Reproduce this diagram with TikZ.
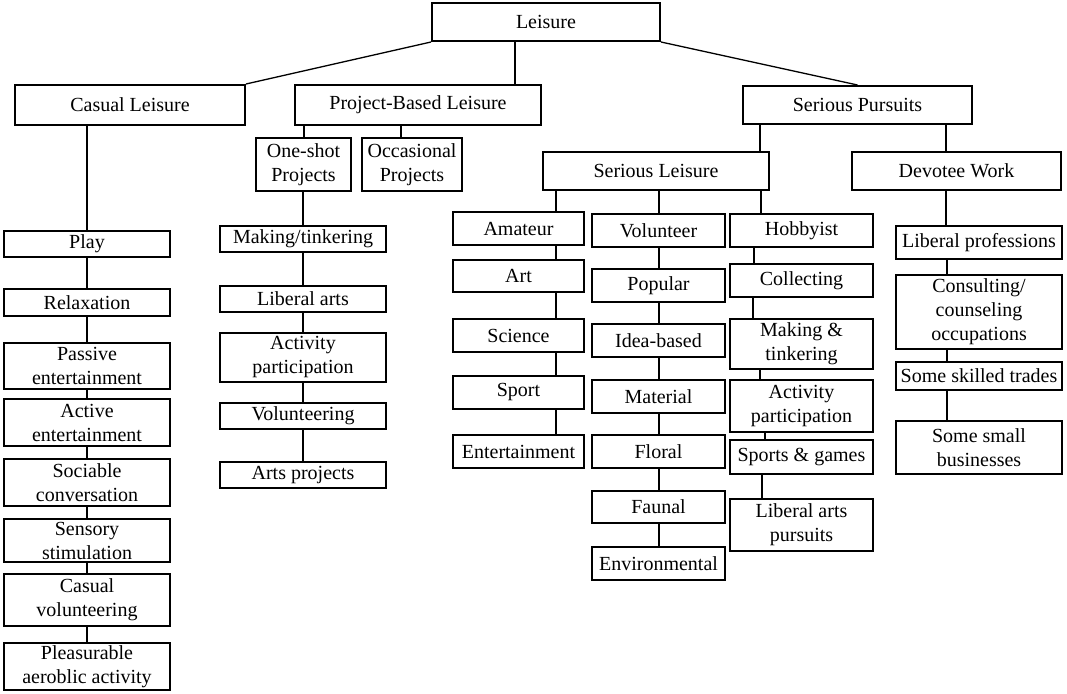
\documentclass[tikz,border=0pt]{standalone}
\usepackage{fontspec}
\setmainfont{Liberation Serif}
\usetikzlibrary{positioning}
\tikzset{
  item/.style={
    draw,
    line width=2pt,
    align=center,
    inner xsep=1pt,
    inner ysep=1pt,
    minimum height=33pt,
    font=\fontsize{20}{24}\selectfont
  },
  casualcol/.style={
    item,
    minimum width=166pt
  },
  projcol/.style={
    item,
    minimum width=166pt
  },
  amateurcol/.style={
    item,
    minimum width=131pt
  },
  volcol/.style={
    item,
    minimum width=133pt
  },
  hobbycol/.style={
    item,
    minimum width=143pt
  },
  devcol/.style={
    item,
    minimum width=166pt
  },
  link/.style={
    line width=2pt
  },
  slant/.style={
    line width=1.3pt
  }
}
\begin{document}
\begin{tikzpicture}[x=1pt,y=1pt]
  \useasboundingbox (0,0) rectangle (1067,-693);

  \node[item, minimum width=228pt, minimum height=38pt] (leisure) at (546,-22) {Leisure};
  \node[item, minimum width=230pt, minimum height=40pt] (casual) at (130,-105) {Casual Leisure};
  \node[item, minimum width=246pt, minimum height=40pt] (project) at (418,-105) {Project-Based Leisure};
  \node[item, minimum width=229pt, minimum height=38pt] (serious) at (857.5,-105) {Serious Pursuits};

  \node[item, minimum width=95pt, minimum height=53pt] (oneshot) at (303.5,-164.5) {One-shot\\Projects};
  \node[item, minimum width=100pt, minimum height=53pt] (occasional) at (412,-164.5) {Occasional\\Projects};
  \node[item, minimum width=226pt, minimum height=38pt] (seriousleis) at (656,-171) {Serious Leisure};
  \node[item, minimum width=209pt, minimum height=38pt] (devotee) at (956.5,-171) {Devotee Work};

  \node[casualcol, minimum height=26pt] (play) at (87,-244) {Play};
  \node[casualcol, minimum height=27pt, below=30pt of play] (relax) {Relaxation};
  \node[casualcol, minimum height=46pt, below=25pt of relax] (passive) {Passive\\entertainment};
  \node[casualcol, minimum height=47pt, below=8pt of passive] (active) {Active\\entertainment};
  \node[casualcol, minimum height=47pt, below=11pt of active] (sociable) {Sociable\\conversation};
  \node[casualcol, minimum height=43pt, below=11pt of sociable] (sensory) {Sensory\\stimulation};
  \node[casualcol, minimum height=52pt, below=10pt of sensory] (casualvol) {Casual\\volunteering};
  \node[casualcol, minimum height=47pt, below=15pt of casualvol] (aerobic) {Pleasurable\\aeroblic activity};

  \node[projcol, minimum height=26pt] (making) at (303,-239) {Making/tinkering};
  \node[projcol, minimum height=26pt, below=32pt of making] (libarts) {Liberal arts};
  \node[projcol, minimum height=49pt, below=19pt of libarts] (actpart) {Activity\\participation};
  \node[projcol, minimum height=26pt, below=19pt of actpart] (volunteering) {Volunteering};
  \node[projcol, minimum height=26pt, below=31pt of volunteering] (artsproj) {Arts projects};

  \node[amateurcol] (amateur) at (518.5,-228.5) {Amateur};
  \node[amateurcol, minimum height=32pt, below=13pt of amateur] (art) {Art};
  \node[amateurcol, below=25pt of art] (science) {Science};
  \node[amateurcol, below=22pt of science] (sport) {Sport};
  \node[amateurcol, below=24pt of sport] (entertain) {Entertainment};

  \node[volcol] (volunteer) at (658.5,-230.5) {Volunteer};
  \node[volcol, below=20pt of volunteer] (popular) {Popular};
  \node[volcol, below=20pt of popular] (idea) {Idea-based};
  \node[volcol, below=21pt of idea] (material) {Material};
  \node[volcol, below=20pt of material] (floral) {Floral};
  \node[volcol, minimum height=32pt, below=21pt of floral] (faunal) {Faunal};
  \node[volcol, below=22pt of faunal] (environ) {Environmental};

  \node[hobbycol] (hobbyist) at (801.5,-230.5) {Hobbyist};
  \node[hobbycol, below=15pt of hobbyist] (collecting) {Collecting};
  \node[hobbycol, minimum height=50pt, below=20pt of collecting] (makingtink) {Making \&\\tinkering};
  \node[hobbycol, minimum height=52pt, below=9pt of makingtink] (activityp) {Activity\\participation};
  \node[hobbycol, minimum height=34pt, below=6pt of activityp] (sports) {Sports \& games};
  \node[hobbycol, minimum height=52pt, below=23pt of sports] (libpursuits) {Liberal arts\\pursuits};

  \node[devcol] (libprof) at (979,-242.5) {Liberal professions};
  \node[devcol, minimum height=74pt, below=14pt of libprof] (consulting) {Consulting/\\counseling\\occupations};
  \node[devcol, minimum height=28pt, below=11pt of consulting] (skilled) {Some skilled trades};
  \node[devcol, minimum height=53pt, below=29pt of skilled] (smallbiz) {Some small\\businesses};

  \draw[slant] (leisure.south west) -- (casual.north east);
  \draw[slant] (leisure.south east) -- (serious.north);
  \draw[link] ([xshift=-31pt]leisure.south) -- ([xshift=-31pt]leisure.south |- project.north);

  \draw[link] (casual.south -| play.north) -- (play.north);
  \draw[link] (project.south -| oneshot.north) -- (oneshot.north);
  \draw[link] ([xshift=-11pt]occasional.north |- project.south) -- ([xshift=-11pt]occasional.north);
  \draw[link] (oneshot.south -| making.north) -- (making.north);
  \draw[link] ([xshift=104pt]seriousleis.north |- serious.south) -- ([xshift=104pt]seriousleis.north);
  \draw[link] ([xshift=-11pt]devotee.north |- serious.south) -- ([xshift=-11pt]devotee.north);
  \draw[link] ([xshift=37pt]amateur.north |- seriousleis.south) -- ([xshift=37pt]amateur.north);
  \draw[link] (seriousleis.south -| volunteer.north) -- (volunteer.north);
  \draw[link] ([xshift=-41pt]hobbyist.north |- seriousleis.south) -- ([xshift=-41pt]hobbyist.north);
  \draw[link] ([xshift=-33pt]libprof.north |- devotee.south) -- ([xshift=-33pt]libprof.north);

  \draw[link] (play) -- (relax);
  \draw[link] (relax) -- (passive);
  \draw[link] (passive) -- (active);
  \draw[link] (active) -- (sociable);
  \draw[link] (sociable) -- (sensory);
  \draw[link] (sensory) -- (casualvol);
  \draw[link] (casualvol) -- (aerobic);

  \draw[link] (making) -- (libarts);
  \draw[link] (libarts) -- (actpart);
  \draw[link] (actpart) -- (volunteering);
  \draw[link] (volunteering) -- (artsproj);

  \draw[link] ([xshift=37pt]amateur.south) -- ([xshift=37pt]art.north);
  \draw[link] ([xshift=37pt]art.south) -- ([xshift=37pt]science.north);
  \draw[link] ([xshift=37pt]science.south) -- ([xshift=37pt]sport.north);
  \draw[link] ([xshift=37pt]sport.south) -- ([xshift=37pt]entertain.north);

  \draw[link] (volunteer) -- (popular);
  \draw[link] (popular) -- (idea);
  \draw[link] (idea) -- (material);
  \draw[link] (material) -- (floral);
  \draw[link] (floral) -- (faunal);
  \draw[link] (faunal) -- (environ);

  \draw[link] ([xshift=-47.5pt]hobbyist.south) -- ([xshift=-47.5pt]collecting.north);
  \draw[link] ([xshift=-48.5pt]collecting.south) -- ([xshift=-48.5pt]makingtink.north);
  \draw[link] ([xshift=-41.5pt]makingtink.south) -- ([xshift=-41.5pt]activityp.north);
  \draw[link] ([xshift=-36.5pt]activityp.south) -- ([xshift=-36.5pt]sports.north);
  \draw[link] ([xshift=-39.5pt]sports.south) -- ([xshift=-39.5pt]libpursuits.north);

  \draw[link] ([xshift=-32pt]libprof.south) -- ([xshift=-32pt]consulting.north);
  \draw[link] ([xshift=-32pt]consulting.south) -- ([xshift=-32pt]skilled.north);
  \draw[link] ([xshift=-32pt]skilled.south) -- ([xshift=-32pt]smallbiz.north);
\end{tikzpicture}
\end{document}
